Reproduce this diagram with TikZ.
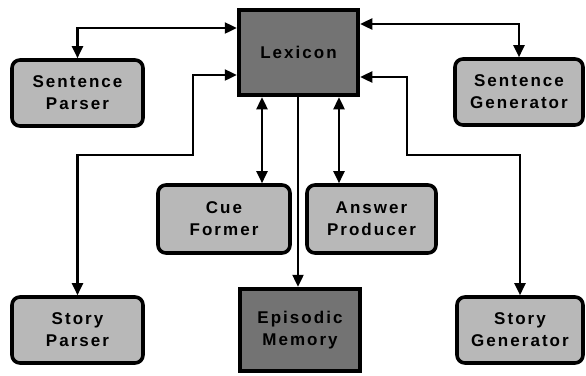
\documentclass[tikz,border=0pt]{standalone}
\usepackage{fontspec}
\setmainfont{Liberation Sans}
\newfontfamily\boxfont[LetterSpace=12]{Liberation Sans Bold}
\usetikzlibrary{arrows.meta}
\begin{document}
\begin{tikzpicture}[x=1pt,y=-1pt,
  module/.style={draw=black, line width=3.6pt, rounded corners=8pt, fill=black!28,
    font=\boxfont\fontsize{17}{22}\selectfont, align=center, inner sep=0pt},
  memory/.style={draw=black, line width=4.5pt, fill=black!55,
    font=\boxfont\fontsize{17}{22}\selectfont, align=center, inner sep=0pt},
  conn/.style={line width=2.4pt, -{Triangle[length=12pt,width=11pt]}},
  biconn/.style={line width=2.4pt, {Triangle[length=12pt,width=11pt]}-{Triangle[length=12pt,width=11pt]}}]
\useasboundingbox (0,0) rectangle (586,375);
\node[memory, minimum width=119pt, minimum height=85pt] (lex) at (298.5,52.5) {Lexicon};
\node[memory, minimum width=120pt, minimum height=82pt] (epi) at (300,330) {Episodic\\Memory};
\node[module, minimum width=131pt, minimum height=66pt] (sp) at (77.5,93) {Sentence\\Parser};
\node[module, minimum width=128pt, minimum height=66pt] (sg) at (519,92) {Sentence\\Generator};
\node[module, minimum width=131pt, minimum height=66pt] (stp) at (77.5,330) {Story\\Parser};
\node[module, minimum width=126pt, minimum height=66pt] (stg) at (520,330) {Story\\Generator};
\node[module, minimum width=132pt, minimum height=68pt] (cue) at (224,219) {Cue\\Former};
\node[module, minimum width=129pt, minimum height=68pt] (ans) at (371.5,219) {Answer\\Producer};
\coordinate (b1) at (193,75);
\coordinate (b2) at (193,155);
\coordinate (b3) at (407,77);
\coordinate (b4) at (407,155);
\draw[biconn] (lex.west |- 0,28) -| (sp.north);
\draw[biconn] (lex.east |- 0,24) -| (sg.north);
\draw[biconn] (lex.west |- b1) -- (b1) -- (b2) -| (stp.north);
\draw[biconn] (lex.east |- b3) -- (b3) -- (b4) -| (stg.north);
\draw[biconn] (lex.south -| 262,0) -- (cue.north -| 262,0);
\draw[biconn] (lex.south -| 339,0) -- (ans.north -| 339,0);
\draw[conn] (lex.south -| 298,0) -- (epi.north -| 298,0);
\end{tikzpicture}
\end{document}
